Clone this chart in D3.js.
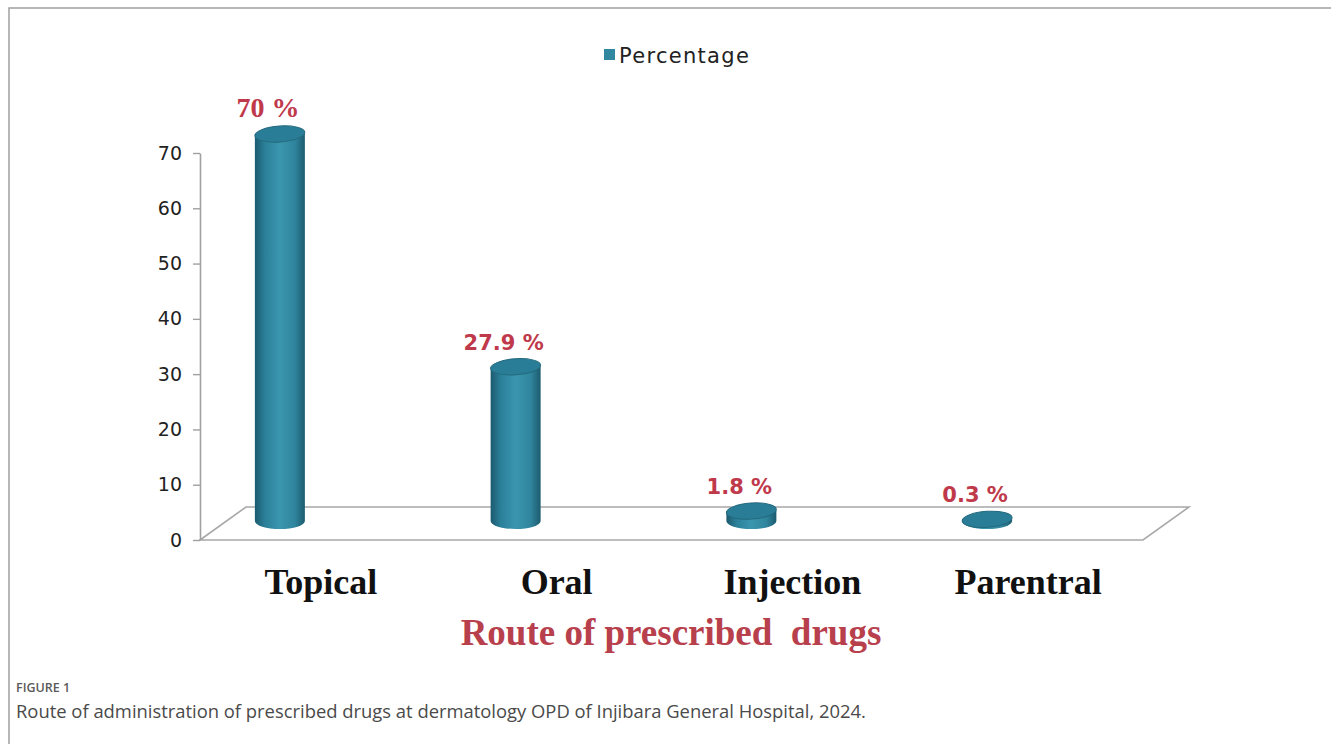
<!DOCTYPE html>
<html>
<head>
<meta charset="utf-8">
<script src="https://cdn.jsdelivr.net/npm/d3@7"></script>
<style>
  html, body { margin: 0; padding: 0; background: #fff; }
  svg { display: block; }
</style>
</head>
<body>
<svg id="chart" width="1331" height="744"></svg>
<script>
const categories = ["Topical", "Oral", "Injection", "Parentral"];
const values = [70, 27.9, 1.8, 0.3];
const valueLabels = ["70 %", "27.9 %", "1.8 %", "0.3 %"];
const yTicks = [0, 10, 20, 30, 40, 50, 60, 70];
const seriesName = "Percentage";
const axisTitle = "Route of prescribed  drugs";
const figureLabel = "FIGURE 1";
const caption = "Route of administration of prescribed drugs at dermatology OPD of Injibara General Hospital, 2024.";

const svg = d3.select("#chart");

// frame
svg.append("path").attr("d", "M9,744 L9,8 L1331,8")
  .attr("fill", "none").attr("stroke", "#a0a0a0").attr("stroke-width", 1.5);

const x0 = 200, x1 = 1143, depthX = 46, depthY = -33;
const x = d3.scaleBand().domain(categories).range([x0, x1]);
const y = d3.scaleLinear().domain([0, 70]).range([540, 153]);

// floor
const floor = d3.path();
floor.moveTo(x0, y(0)); floor.lineTo(x0 + depthX, y(0) + depthY);
floor.lineTo(x1 + depthX, y(0) + depthY); floor.lineTo(x1, y(0)); floor.closePath();
svg.append("path").attr("d", floor.toString()).attr("fill", "none")
  .attr("stroke", "#a8a8a8").attr("stroke-width", 1.6);

// y axis
const yAxis = d3.axisLeft(y).tickValues(yTicks).tickSize(7).tickSizeOuter(0).tickPadding(11);
const gy = svg.append("g").attr("transform", `translate(${x0},0)`).call(yAxis);
gy.select(".domain").attr("stroke", "#a0a0a0").attr("stroke-width", 1.6);
gy.selectAll(".tick line").attr("stroke", "#a0a0a0").attr("stroke-width", 1.4);
gy.selectAll(".tick text").attr("font-family", "DejaVu Sans").attr("font-size", 19).attr("fill", "#222");

// gradient
const defs = svg.append("defs");
const grad = defs.append("linearGradient").attr("id", "cyl").attr("x1", "0%").attr("x2", "100%");
[["0%", "#1c5a6e"], ["20%", "#2b8099"], ["50%", "#3a96ae"], ["80%", "#2f859d"], ["100%", "#1d5b6f"]]
  .forEach(([o, c]) => grad.append("stop").attr("offset", o).attr("stop-color", c));

// cylinders
const rx = 25, ry = 8, barOffsetX = -38, barOffsetY = -19;
const bars = svg.append("g");
categories.forEach((c, i) => {
  const cx = x(c) + x.bandwidth() / 2 + barOffsetX;
  const base = y(0) + barOffsetY;
  const top = y(values[i]) + barOffsetY;
  const g = bars.append("g");
  g.append("path")
    .attr("d", `M${cx - rx},${top} L${cx - rx},${base} A${rx},${ry} 0 0 0 ${cx + rx},${base} L${cx + rx},${top} Z`)
    .attr("fill", "url(#cyl)");
  g.append("ellipse").attr("cx", cx).attr("cy", top).attr("rx", rx).attr("ry", ry)
    .attr("transform", `rotate(-4,${cx},${top})`)
    .attr("fill", "#2a7d96").attr("stroke", "#23697e").attr("stroke-width", 1);
  // value label
  const isSerif = i === 0;
  svg.append("text")
    .attr("x", cx - 12).attr("y", top - ry - 9)
    .attr("text-anchor", "middle")
    .attr("font-family", isSerif ? "Liberation Serif" : "DejaVu Sans")
    .attr("font-weight", "bold")
    .attr("font-size", isSerif ? 28 : 21)
    .attr("fill", "#c0394b")
    .text(valueLabels[i]);
});

// category labels
svg.append("g").selectAll("text").data(categories).join("text")
  .attr("x", d => x(d) + x.bandwidth() / 2 + 3)
  .attr("y", 594)
  .attr("text-anchor", "middle")
  .attr("font-family", "Liberation Serif").attr("font-weight", "bold").attr("font-size", 36)
  .attr("fill", "#111")
  .text(d => d);

// axis title
svg.append("text").attr("x", 671).attr("y", 645).attr("text-anchor", "middle")
  .attr("font-family", "Liberation Serif").attr("font-weight", "bold").attr("font-size", 37)
  .attr("fill", "#b8404c").attr("xml:space", "preserve").style("white-space", "pre")
  .text(axisTitle);

// legend
svg.append("rect").attr("x", 604).attr("y", 49).attr("width", 11).attr("height", 11).attr("fill", "#2f87a0");
svg.append("text").attr("x", 619).attr("y", 63)
  .attr("font-family", "DejaVu Sans").attr("font-size", 21).attr("letter-spacing", 1.3)
  .attr("fill", "#222").text(seriesName);

// caption
svg.append("text").attr("x", 16).attr("y", 692)
  .attr("font-family", "Open Sans").attr("font-weight", 600).attr("font-size", 12.5)
  .attr("fill", "#5a5a5a").text(figureLabel);
svg.append("text").attr("x", 16).attr("y", 718)
  .attr("font-family", "Open Sans").attr("font-size", 18.4)
  .attr("fill", "#4a4a4a").text(caption);
</script>
</body>
</html>
